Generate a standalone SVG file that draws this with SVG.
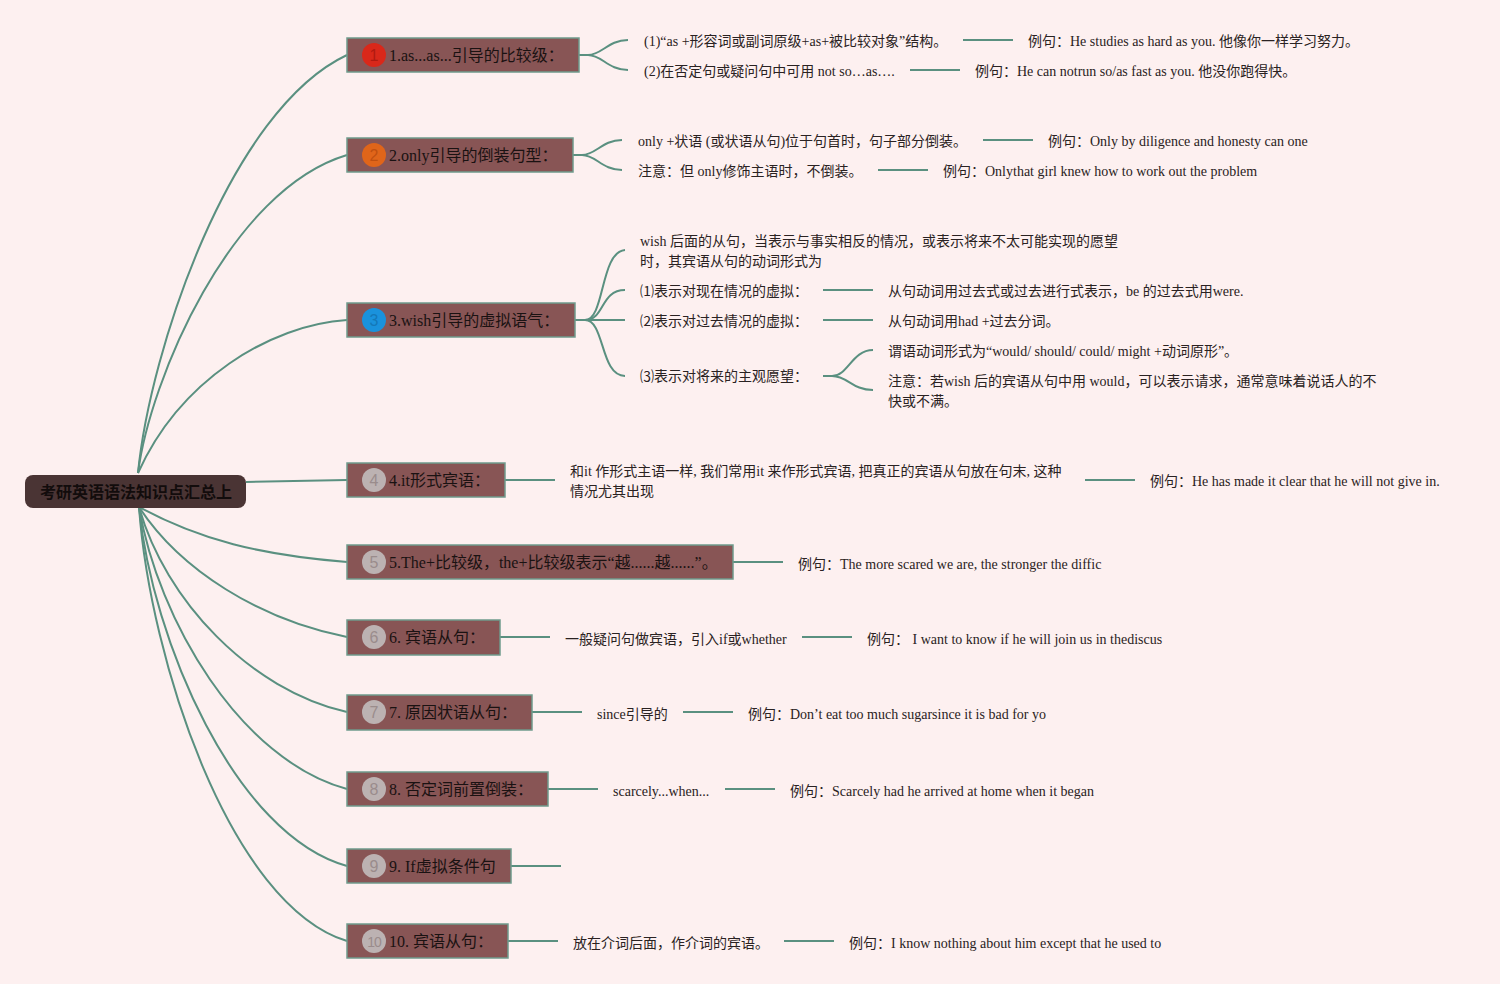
<svg xmlns="http://www.w3.org/2000/svg" width="1500" height="984" viewBox="0 0 1500 984">
<style>
.bg{fill:#fdf0f0}
.c{fill:none;stroke:#5a9080;stroke-width:2}
.box{fill:#885555;stroke:#6f9a8c;stroke-width:1.5}
.root{fill:#4a3434}
.rt{font-family:"Noto Sans CJK SC",sans-serif;font-weight:bold;font-size:16px;fill:#120c0c}
.nt{font-family:"Liberation Serif","Noto Sans CJK SC",serif;font-size:16px;fill:#1a1212}
.st{font-family:"Liberation Serif","Noto Sans CJK SC",serif;font-size:14px;fill:#2a2222}
.num{font-family:"Liberation Sans","Noto Sans",sans-serif;font-size:16px;text-anchor:middle}
.gc{fill:#bcb2b2}
.gn{fill:#9a8c8c}
</style>
<rect class="bg" x="0" y="0" width="1500" height="984"/>
<g id="connectors">
<path class="c" d="M138,473 C150,350 230,110 347,55"/>
<path class="c" d="M138,473 C150,380 230,190 347,155"/>
<path class="c" d="M138,473 C180,380 270,325 347,320"/>
<path class="c" d="M246,482 L347,480"/>
<path class="c" d="M139,507 C200,540 260,555 347,562"/>
<path class="c" d="M139,507 C180,570 260,620 347,637"/>
<path class="c" d="M139,507 C165,600 250,690 347,712"/>
<path class="c" d="M139,507 C158,620 240,760 347,789"/>
<path class="c" d="M139,507 C152,640 235,835 347,866"/>
<path class="c" d="M139,507 C150,660 230,905 347,941"/>
<!-- node1 -->
<path class="c" d="M579,55 L588,55 C602,55 608,40 628,40"/>
<path class="c" d="M579,55 L588,55 C602,55 608,70 628,70"/>
<path class="c" d="M963,40 L1013,40"/>
<path class="c" d="M910,70 L960,70"/>
<!-- node2 -->
<path class="c" d="M573,155 L582,155 C596,155 602,140 622,140"/>
<path class="c" d="M573,155 L582,155 C596,155 602,170 622,170"/>
<path class="c" d="M983,140 L1033,140"/>
<path class="c" d="M878,170 L928,170"/>
<!-- node3 -->
<path class="c" d="M575,320 L585,320 C605,320 600,252 625,250"/>
<path class="c" d="M575,320 L585,320 C605,320 600,290 625,290"/>
<path class="c" d="M575,320 L625,320"/>
<path class="c" d="M575,320 L585,320 C605,320 600,376 625,376"/>
<path class="c" d="M823,290 L873,290"/>
<path class="c" d="M823,320 L873,320"/>
<path class="c" d="M823,376 L832,376 C848,376 852,350 873,350"/>
<path class="c" d="M823,376 L832,376 C848,376 852,390 873,390"/>
<!-- node4 -->
<path class="c" d="M505,480 L555,480"/>
<path class="c" d="M1085,480 L1135,480"/>
<!-- node5 -->
<path class="c" d="M733,562 L783,562"/>
<!-- node6 -->
<path class="c" d="M500,637 L550,637"/>
<path class="c" d="M802,637 L852,637"/>
<!-- node7 -->
<path class="c" d="M532,712 L582,712"/>
<path class="c" d="M683,712 L733,712"/>
<!-- node8 -->
<path class="c" d="M548,789 L598,789"/>
<path class="c" d="M725,789 L775,789"/>
<!-- node9 -->
<path class="c" d="M511,866 L561,866"/>
<!-- node10 -->
<path class="c" d="M508,941 L558,941"/>
<path class="c" d="M784,941 L834,941"/>
</g>
<g id="root">
<rect class="root" x="25" y="475" width="221" height="33" rx="8"/>
<text class="rt" x="136" y="498" text-anchor="middle">考研英语语法知识点汇总上</text>
</g>
<g id="n1">
<rect class="box" x="347" y="38" width="232" height="34"/>
<circle cx="374" cy="55" r="12" fill="#d9281a"/>
<text class="num" x="374" y="61" fill="#b01a10">1</text>
<text class="nt" x="389" y="61">1.as...as...引导的比较级：</text>
</g>
<g id="n1a"><text class="st" x="644" y="46">(1)“as +形容词或副词原级+as+被比较对象”结构。</text></g>
<g id="n1a1"><text class="st" x="1028" y="46">例句：He studies as hard as you. 他像你一样学习努力。</text></g>
<g id="n1b"><text class="st" x="644" y="76">(2)在否定句或疑问句中可用 not so…as….</text></g>
<g id="n1b1"><text class="st" x="975" y="76">例句：He can notrun so/as fast as you. 他没你跑得快。</text></g>
<g id="n2">
<rect class="box" x="347" y="138" width="226" height="34"/>
<circle cx="374" cy="155" r="12" fill="#e0651a"/>
<text class="num" x="374" y="161" fill="#c05010">2</text>
<text class="nt" x="389" y="161">2.only引导的倒装句型：</text>
</g>
<g id="n2a"><text class="st" x="638" y="146">only +状语 (或状语从句)位于句首时，句子部分倒装。</text></g>
<g id="n2a1"><text class="st" x="1048" y="146">例句：Only by diligence and honesty can one</text></g>
<g id="n2b"><text class="st" x="638" y="176">注意：但 only修饰主语时，不倒装。</text></g>
<g id="n2b1"><text class="st" x="943" y="176">例句：Onlythat girl knew how to work out the problem</text></g>
<g id="n3">
<rect class="box" x="347" y="303" width="228" height="34"/>
<circle cx="374" cy="320" r="12" fill="#1a92dc"/>
<text class="num" x="374" y="326" fill="#1478b8">3</text>
<text class="nt" x="389" y="326">3.wish引导的虚拟语气：</text>
</g>
<g id="n3a"><text class="st" x="640" y="246">wish 后面的从句，当表示与事实相反的情况，或表示将来不太可能实现的愿望</text><text class="st" x="640" y="266">时，其宾语从句的动词形式为</text></g>
<g id="n3b"><text class="st" x="640" y="296">⑴表示对现在情况的虚拟：</text></g>
<g id="n3b1"><text class="st" x="888" y="296">从句动词用过去式或过去进行式表示，be 的过去式用were.</text></g>
<g id="n3c"><text class="st" x="640" y="326">⑵表示对过去情况的虚拟：</text></g>
<g id="n3c1"><text class="st" x="888" y="326">从句动词用had +过去分词。</text></g>
<g id="n3d"><text class="st" x="640" y="381">⑶表示对将来的主观愿望：</text></g>
<g id="n3d1"><text class="st" x="888" y="356">谓语动词形式为“would/ should/ could/ might +动词原形”。</text></g>
<g id="n3d2"><text class="st" x="888" y="386">注意：若wish 后的宾语从句中用 would，可以表示请求，通常意味着说话人的不</text><text class="st" x="888" y="406">快或不满。</text></g>
<g id="n4">
<rect class="box" x="347" y="463" width="158" height="34"/>
<circle class="gc" cx="374" cy="480" r="12"/>
<text class="num gn" x="374" y="486">4</text>
<text class="nt" x="389" y="486">4.it形式宾语：</text>
</g>
<g id="n4a"><text class="st" x="570" y="476">和it 作形式主语一样, 我们常用it 来作形式宾语, 把真正的宾语从句放在句末, 这种</text><text class="st" x="570" y="496">情况尤其出现</text></g>
<g id="n4a1"><text class="st" x="1150" y="486">例句：He has made it clear that he will not give in.</text></g>
<g id="n5">
<rect class="box" x="347" y="545" width="386" height="34"/>
<circle class="gc" cx="374" cy="562" r="12"/>
<text class="num gn" x="374" y="568">5</text>
<text class="nt" x="389" y="568">5.The+比较级，the+比较级表示“越......越......”。</text>
</g>
<g id="n5a"><text class="st" x="798" y="569">例句：The more scared we are, the stronger the diffic</text></g>
<g id="n6">
<rect class="box" x="347" y="620" width="153" height="35"/>
<circle class="gc" cx="374" cy="637" r="12"/>
<text class="num gn" x="374" y="643">6</text>
<text class="nt" x="389" y="643">6. 宾语从句：</text>
</g>
<g id="n6a"><text class="st" x="565" y="644">一般疑问句做宾语，引入if或whether</text></g>
<g id="n6a1"><text class="st" x="867" y="644">例句： I want to know if he will join us in thediscus</text></g>
<g id="n7">
<rect class="box" x="347" y="695" width="185" height="35"/>
<circle class="gc" cx="374" cy="712" r="12"/>
<text class="num gn" x="374" y="718">7</text>
<text class="nt" x="389" y="718">7. 原因状语从句：</text>
</g>
<g id="n7a"><text class="st" x="597" y="719">since引导的</text></g>
<g id="n7a1"><text class="st" x="748" y="719">例句：Don’t eat too much sugarsince it is bad for yo</text></g>
<g id="n8">
<rect class="box" x="347" y="772" width="201" height="34"/>
<circle class="gc" cx="374" cy="789" r="12"/>
<text class="num gn" x="374" y="795">8</text>
<text class="nt" x="389" y="795">8. 否定词前置倒装：</text>
</g>
<g id="n8a"><text class="st" x="613" y="796">scarcely...when...</text></g>
<g id="n8a1"><text class="st" x="790" y="796">例句：Scarcely had he arrived at home when it began</text></g>
<g id="n9">
<rect class="box" x="347" y="849" width="164" height="34"/>
<circle class="gc" cx="374" cy="866" r="12"/>
<text class="num gn" x="374" y="872">9</text>
<text class="nt" x="389" y="872">9. If虚拟条件句</text>
</g>
<g id="n10">
<rect class="box" x="347" y="924" width="161" height="34"/>
<circle class="gc" cx="374" cy="941" r="12"/>
<text class="num gn" x="374" y="947" style="font-size:14px;letter-spacing:-1px">10</text>
<text class="nt" x="389" y="947">10. 宾语从句：</text>
</g>
<g id="n10a"><text class="st" x="573" y="948">放在介词后面，作介词的宾语。</text></g>
<g id="n10a1"><text class="st" x="849" y="948">例句：I know nothing about him except that he used to</text></g>
</svg>
